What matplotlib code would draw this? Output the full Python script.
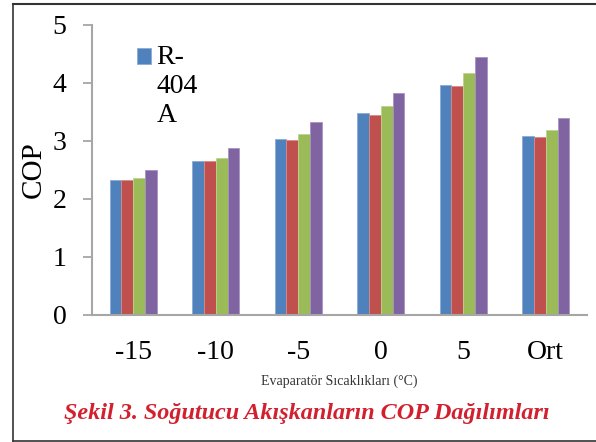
import matplotlib
matplotlib.use('Agg')
import matplotlib.pyplot as plt
import numpy as np
from matplotlib.lines import Line2D
from matplotlib.patches import Rectangle
from matplotlib.legend_handler import HandlerPatch

plt.rcParams['font.family'] = ['Liberation Serif', 'DejaVu Serif']

# COP values per evaporator temperature, four refrigerants
categories = ['-15', '-10', '-5', '0', '5', 'Ort']
series_names = ['R-404A', 'R-2', 'R-3', 'R-4']
cop_s1 = [2.33, 2.66, 3.04, 3.48, 3.97, 3.09]
cop_s2 = [2.33, 2.65, 3.02, 3.45, 3.94, 3.07]
cop_s3 = [2.36, 2.71, 3.12, 3.60, 4.17, 3.19]
cop_s4 = [2.50, 2.88, 3.32, 3.83, 4.44, 3.39]
series = [cop_s1, cop_s2, cop_s3, cop_s4]
colors = ['#4F81BD', '#C0504D', '#9BBB59', '#8064A2']
edges = ['#8aaad6', '#d88a88', '#bcd48e', '#a692c2']

W, H = 596, 442
fig = plt.figure(figsize=(W / 100, H / 100), dpi=100)
ax = fig.add_axes([92 / W, 1 - 315 / H, (587 - 92) / W, (315 - 25) / H])

x = np.arange(len(categories))
bw = 0.143
bars = []
for i, vals in enumerate(series):
    b = ax.bar(x + (i - 1.5) * bw, vals, bw, color=colors[i],
               edgecolor=edges[i], linewidth=0.6, label=series_names[i])
    bars.append(b)

ax.set_xlim(-0.5, len(categories) - 0.5)
ax.set_ylim(0, 5)
ax.set_yticks(range(6))
ax.set_xticks(x)
ax.set_xticklabels(categories)

for s in ['top', 'right']:
    ax.spines[s].set_visible(False)
for s in ['left', 'bottom']:
    ax.spines[s].set_color('#a6a6a6')
    ax.spines[s].set_linewidth(1.5)

ax.tick_params(axis='y', direction='out', length=6.5, width=1.3,
               color='#a6a6a6', labelsize=20, pad=12)
ax.tick_params(axis='x', length=0, labelsize=20, pad=18)

ax.set_ylabel('COP', fontsize=21, labelpad=4)
ax.set_xlabel('Evaparatör Sıcaklıkları (°C)', fontsize=10, color='#333333',
              labelpad=7)


# legend square sits next to the first line of the wrapped label
def top_square(legend, orig_handle, xdescent, ydescent, width, height, fontsize):
    return Rectangle((-xdescent, -ydescent + fontsize * 1.08), width, height)


leg = ax.legend(handles=[bars[0][0]], labels=['R-\n404\nA'], loc='upper left',
                bbox_to_anchor=(137 / W, 1 - 45 / H),
                bbox_transform=fig.transFigure, frameon=False, fontsize=20,
                handlelength=0.5, handleheight=0.5, handletextpad=0.2,
                borderpad=0, borderaxespad=0,
                handler_map={Rectangle: HandlerPatch(patch_func=top_square)})

fig.text(307 / W, 1 - 413 / H,
         'Şekil 3. Soğutucu Akışkanların COP Dağılımları',
         ha='center', va='center', fontsize=17.4, fontweight='bold',
         fontstyle='italic', color='#D2202E')

# outer frame of the figure
fig.add_artist(Line2D([13 / W, 13 / W], [1 - 4 / H, 1 - 441 / H],
                      transform=fig.transFigure, color='#333333', lw=1.2))
fig.add_artist(Line2D([13 / W, 1], [1 - 4 / H, 1 - 4 / H],
                      transform=fig.transFigure, color='#333333', lw=1.5))
fig.add_artist(Line2D([13 / W, 1], [1 - 440.5 / H, 1 - 440.5 / H],
                      transform=fig.transFigure, color='#333333', lw=1.2))

fig.savefig('out.png', dpi=100)
